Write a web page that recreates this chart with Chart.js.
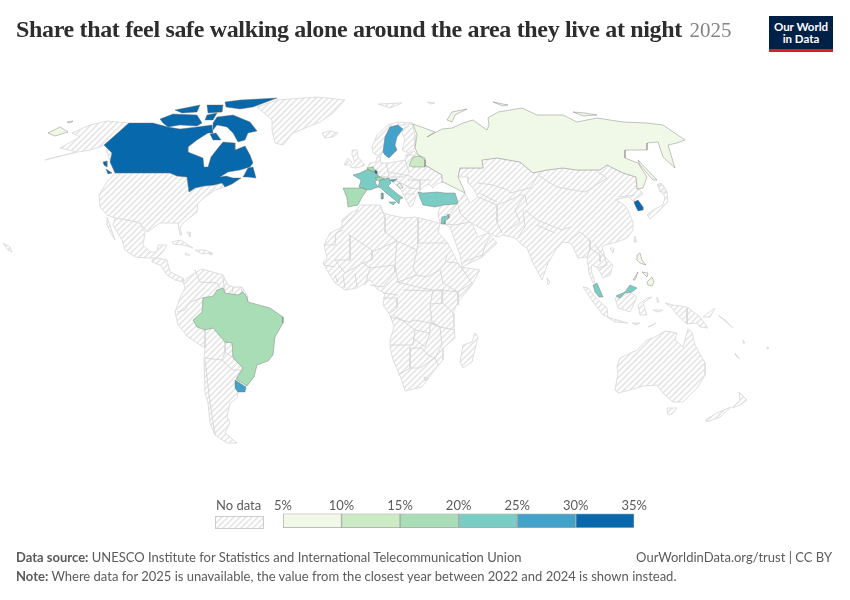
<!DOCTYPE html>
<html lang="en">
<head>
<meta charset="UTF-8" />
<title>Share that feel safe walking alone around the area they live at night</title>
<script src="https://cdn.jsdelivr.net/npm/chart.js@4"></script>
<style>
  html, body { margin: 0; background: #fff; }
  #page { position: relative; width: 850px; height: 600px; overflow: hidden; font-family: Lato, sans-serif; color: #5b5b5b; }
  #page > * { position: absolute; }
  #map { left: 0; top: 0; }
  #legend { left: 274px; top: 499px; }
  h1 { left: 16px; top: 16px; margin: 0; font: bold 24px "Liberation Serif", serif; letter-spacing: -0.34px; color: #2d2d2d; white-space: nowrap; }
  h1 span { font-weight: normal; color: #858585; font-size: 21px; letter-spacing: 0; margin-left: 2px; }
  #logo { left: 769px; top: 16px; width: 64px; height: 33px; padding-top: 0; background: #002147; border-bottom: 3px solid #ce261e; color: #fff; font: bold 11.5px/12px Lato, sans-serif; text-align: center; }
  #logo div { padding-top: 5px; }
  .small { font-size: 13px; white-space: nowrap; }
  #nodata { left: 216px; top: 497px; font-size: 13px; }
  #swatch { left: 215px; top: 516px; width: 47px; height: 11px; border: 1px solid #ccc; }
</style>
</head>
<body>
<div id="page">
  <canvas id="map" width="850" height="600"></canvas>
  <h1>Share that feel safe walking alone around the area they live at night <span>2025</span></h1>
  <div id="logo"><div>Our World<br>in Data</div></div>
  <div id="nodata">No data</div>
  <div id="swatch"></div>
  <canvas id="legend" width="373" height="30"></canvas>
  <div class="small" style="left:16px;top:549px"><b>Data source:</b> UNESCO Institute for Statistics and International Telecommunication Union</div>
  <div class="small" style="right:18px;top:549px">OurWorldinData.org/trust | CC BY</div>
  <div class="small" style="left:16px;top:568px"><b>Note:</b> Where data for 2025 is unavailable, the value from the closest year between 2022 and 2024 is shown instead.</div>
</div>

<script>
// colour bins of the legend
const binEdges = [5, 10, 15, 20, 25, 30, 35];
const binColors = ['#f0f9e8', '#ccebc5', '#a8ddb5', '#7bccc4', '#43a2ca', '#0868ac'];

// countries with data, values estimated from the bin colours
const countries = ['Canada', 'Sweden', 'Russia', 'Belarus', 'France', 'Spain', 'Belgium', 'Luxembourg', 'Switzerland', 'Italy', 'Slovenia', 'Montenegro', 'Turkey', 'Jordan', 'South Korea', 'Malaysia', 'Philippines', 'Brazil', 'Uruguay'];
const shareValues = [32, 28, 8, 13, 23, 18, 17, 31, 17, 23, 27, 8, 22, 23, 33, 22, 8, 17, 27];

// country shapes in map units (projected map, one ring per landmass)
const countryOutlines = [
  [ // Canada
    [[104,145],[129,123],[153,123],[168,127],[180,129],[197,127],[212,125],[213,133],[208,133],[197,140],[188,147],[188,152],[203,158],[204,167],[208,167],[211,157],[218,148],[223,142],[235,143],[235,150],[245,146],[250,155],[253,163],[250,167],[240,170],[228,172],[220,177],[226,176],[233,178],[241,178],[232,184],[225,187],[222,183],[214,185],[204,186],[195,188],[189,192],[187,177],[177,176],[170,173],[115,173],[110,162],[112,153]],
    [[160,119],[173,114],[197,115],[202,123],[197,126],[180,125],[168,127],[163,123]],
    [[213,123],[217,117],[233,115],[250,122],[257,131],[248,133],[245,140],[238,142],[233,133],[227,127],[217,125],[213,130]],
    [[225,102],[240,100],[277,98],[253,107],[240,109],[233,108],[226,107]],
    [[207,105],[223,105],[222,112],[208,113]],
    [[175,110],[190,107],[200,105],[197,112],[182,113]],
    [[207,115],[217,113],[213,120],[205,120]],
    [[210,134],[216,133],[221,140],[213,140]],
    [[243,177],[248,168],[253,167],[256,178],[248,177]],
    [[103,162],[107,161],[107,167],[104,165]],
    [[106,169],[112,173],[108,174]]
  ],
  [[[383,152],[385,137],[390,127],[398,125],[403,129],[397,137],[395,145],[397,150],[389,158],[385,155]]], // Sweden
  [ // Russia
    [[413,124],[427,129],[435,132],[427,137],[442,129],[452,128],[463,123],[473,120],[480,125],[487,130],[489,125],[488,118],[498,112],[522,108],[537,115],[563,115],[577,122],[597,118],[623,122],[647,123],[663,125],[685,140],[677,143],[668,145],[675,168],[663,157],[658,142],[647,143],[647,150],[625,150],[625,158],[638,163],[647,177],[643,188],[637,189],[636,177],[623,173],[607,165],[600,170],[577,170],[563,168],[547,170],[533,173],[520,162],[497,158],[482,160],[483,168],[460,168],[458,177],[463,188],[465,193],[455,188],[443,182],[442,175],[425,165],[425,158],[418,155],[415,148],[417,135]],
    [[48,133],[60,127],[68,132],[55,136]],
    [[67,122],[73,121],[70,123]],
    [[447,120],[452,112],[467,109],[455,115],[452,122]],
    [[493,102],[508,105],[503,106]],
    [[573,112],[585,113],[597,115],[583,116]],
    [[638,160],[657,180],[653,180],[640,165]]
  ],
  [[[409,165],[413,157],[420,156],[425,160],[425,167],[412,167]]], // Belarus
  [[[353,175],[360,173],[368,169],[375,173],[380,177],[375,182],[378,187],[370,190],[363,189],[359,187],[361,180]]], // France
  [[[343,188],[362,188],[367,190],[362,197],[358,205],[348,207],[347,198]]], // Spain
  [[[367,168],[373,167],[375,172],[369,170]]], // Belgium
  [[[375,170],[377,171],[377,174],[375,173]]], // Luxembourg
  [[[375,178],[380,177],[385,179],[380,182]]], // Switzerland
  [ // Italy
    [[378,187],[380,180],[389,178],[391,183],[388,186],[395,192],[403,198],[400,199],[399,204],[395,200],[386,193],[381,188]],
    [[389,202],[396,202],[393,205]],
    [[381,193],[383,193],[383,199],[381,199]]
  ],
  [[[390,180],[397,179],[393,182]]], // Slovenia
  [[[397,185],[400,183],[403,188],[400,188]]], // Montenegro
  [[[418,192],[423,193],[437,192],[445,193],[455,193],[458,202],[457,204],[443,205],[435,207],[423,205],[420,198]]], // Turkey
  [[[442,217],[447,216],[448,214],[449,218],[445,221],[445,224],[441,224]]], // Jordan
  [[[634,202],[638,200],[643,207],[643,210],[638,211],[635,205]]], // South Korea
  [ // Malaysia
    [[593,285],[597,283],[603,297],[599,297],[595,292]],
    [[616,296],[625,292],[630,285],[637,288],[632,292],[625,293],[620,298]]
  ],
  [ // Philippines
    [[637,255],[640,253],[642,260],[646,265],[640,263],[637,260]],
    [[647,282],[652,277],[654,282],[652,286],[648,285]],
    [[642,272],[648,273],[647,277]],
    [[633,280],[638,272],[635,280]]
  ],
  [[[193,320],[202,312],[203,298],[213,296],[217,290],[223,288],[225,293],[238,295],[243,292],[247,297],[248,302],[270,308],[283,317],[283,323],[275,337],[273,355],[268,361],[257,365],[254,377],[247,386],[236,379],[243,368],[233,358],[232,343],[225,342],[213,328],[205,330],[197,327]]], // Brazil
  [[[235,380],[246,387],[245,392],[238,392],[235,388]]] // Uruguay
];

// land with no data
const noDataLand = [
  [[115,173],[170,173],[177,176],[187,177],[189,192],[195,188],[204,186],[214,185],[222,183],[225,187],[215,190],[205,197],[198,203],[197,212],[183,223],[180,228],[182,235],[180,235],[178,223],[160,223],[147,232],[140,223],[128,220],[115,218],[107,215],[100,207],[99,195],[107,182]], // USA
  [[129,123],[107,121],[90,125],[72,133],[80,137],[60,148],[77,152],[45,160],[72,153],[90,150],[100,147],[104,145],[112,153],[110,160],[106,150]], // Alaska
  [[3,243],[10,247],[12,252],[8,250]],
  [[257,107],[277,100],[317,97],[345,100],[333,113],[320,122],[293,133],[283,145],[275,143],[272,130],[272,120]], // Greenland
  [[322,133],[330,131],[338,133],[333,137],[325,138]],
  [[378,104],[402,103],[390,108]],
  [[427,102],[435,103],[431,104]],
  [[115,218],[128,220],[140,223],[145,233],[143,245],[150,252],[157,252],[158,245],[167,245],[162,253],[157,258],[147,258],[135,257],[125,250],[122,240],[113,225]], // Mexico
  [[107,217],[115,240],[112,235],[107,225]],
  [[152,260],[157,258],[167,260],[170,272],[183,278],[183,282],[175,280],[167,275],[160,265],[152,262]],
  [[172,242],[180,240],[193,248],[183,245],[173,244]],
  [[195,250],[205,250],[212,253],[202,254]],
  [[185,253],[190,255],[186,255]],
  [[210,253],[213,254],[210,255]],
  [[187,232],[190,232],[190,237]],
  [[183,282],[187,278],[195,273],[202,269],[223,275],[228,285],[233,287],[242,287],[247,295],[250,320],[240,380],[236,390],[238,392],[237,398],[230,403],[227,417],[230,423],[225,433],[237,443],[227,443],[215,435],[210,423],[208,403],[205,393],[204,360],[205,348],[188,337],[178,325],[175,312],[180,298],[185,288]], // South America
  [[342,220],[350,213],[357,210],[360,205],[380,205],[383,213],[390,215],[405,218],[415,217],[435,222],[440,223],[438,232],[447,242],[453,253],[460,267],[480,270],[472,285],[458,302],[453,313],[454,327],[455,338],[443,348],[443,360],[433,372],[422,387],[405,391],[401,378],[393,360],[390,347],[390,340],[394,327],[390,315],[383,305],[385,293],[378,290],[370,280],[357,288],[345,290],[335,283],[328,272],[323,263],[327,258],[324,245],[330,233],[342,227]], // Africa
  [[475,333],[478,337],[472,362],[463,368],[460,362],[463,345],[472,342]],
  [[367,168],[370,163],[376,162],[377,157],[381,158],[380,163],[388,163],[400,161],[405,160],[407,155],[414,151],[418,155],[425,160],[425,165],[442,175],[443,182],[437,184],[433,188],[429,184],[423,187],[420,191],[417,194],[415,199],[413,205],[410,207],[405,198],[402,191],[397,186],[392,181],[388,180],[388,177],[380,177],[375,173]], // Europe
  [[404,128],[412,124],[415,135],[415,148],[408,153],[402,150],[405,140],[402,133]], // Finland
  [[372,147],[377,135],[388,125],[398,122],[413,123],[405,125],[398,125],[390,127],[385,137],[383,152],[380,157],[373,153]], // Norway
  [[352,150],[357,150],[358,157],[365,165],[360,167],[355,168],[350,167],[355,162],[352,155]],
  [[344,165],[348,158],[352,162],[350,165]],
  [[440,206],[438,215],[440,222],[450,227],[460,255],[462,267],[482,257],[497,243],[488,233],[478,237],[472,223],[468,221],[487,232],[497,237],[503,235],[515,238],[522,245],[527,248],[533,263],[542,280],[548,263],[557,248],[563,242],[570,243],[573,247],[578,258],[587,257],[589,273],[593,283],[595,282],[591,270],[592,265],[598,268],[603,278],[610,275],[613,265],[605,257],[602,247],[605,245],[617,242],[627,238],[633,230],[633,222],[627,208],[622,203],[615,200],[627,197],[630,198],[634,202],[635,199],[643,194],[640,190],[637,189],[636,177],[623,173],[607,165],[600,170],[577,170],[563,168],[547,170],[533,173],[520,162],[497,158],[482,160],[483,168],[460,168],[458,177],[468,177],[468,183],[473,188],[478,197],[470,203],[465,193],[458,202]], // Asia
  [[647,215],[653,210],[663,205],[665,197],[657,185],[661,183],[667,192],[668,202],[658,212],[650,219]],
  [[658,185],[663,185],[667,192],[660,192]],
  [[635,236],[637,242],[634,242]],
  [[610,248],[614,248],[613,253]],
  [[547,278],[550,282],[548,285]],
  [[583,287],[588,288],[598,300],[607,308],[608,317],[603,315],[593,302]],
  [[607,317],[628,323],[615,322]],
  [[615,298],[620,298],[630,292],[637,297],[630,312],[618,308]],
  [[638,305],[647,298],[652,297],[643,303],[647,315],[640,315]],
  [[648,327],[656,323],[653,325]],
  [[632,323],[640,323],[636,325]],
  [[665,303],[673,305],[687,307],[700,317],[708,328],[700,327],[697,323],[687,324],[677,315],[672,308]],
  [[657,297],[659,302],[657,302]],
  [[653,310],[663,310],[658,312]],
  [[718,315],[733,328],[725,320]],
  [[703,317],[715,308],[710,317]],
  [[743,340],[745,343],[743,343]],
  [[735,353],[740,359],[736,356]],
  [[767,347],[769,348],[767,349]],
  [[615,390],[618,373],[617,367],[620,358],[637,350],[647,340],[655,337],[665,331],[677,333],[675,340],[683,347],[688,329],[692,332],[695,345],[705,363],[705,375],[697,388],[683,402],[673,402],[663,393],[657,385],[643,386],[630,390],[618,393]], // Australia
  [[667,408],[677,408],[672,414],[668,415]],
  [[739,392],[747,400],[740,405],[732,408],[740,400]],
  [[731,407],[720,417],[707,422],[705,420],[717,413]]
];

// borders between countries with no data
const noDataBorders = [
  [[177,312],[185,310],[190,302]], [[195,270],[200,282],[217,283],[220,288]], [[190,302],[205,297]], [[205,330],[205,348]], [[205,360],[210,403],[215,435]], [[205,358],[222,360],[225,352],[232,357]], [[222,360],[233,370],[243,370]], [[225,342],[225,352]], [[223,277],[225,294]], [[233,287],[232,293]], [[242,288],[241,295]],
  [[342,228],[358,210]], [[324,245],[335,245],[336,233],[343,230]], [[348,234],[372,250],[372,260],[363,263]], [[350,235],[350,260],[335,260]], [[380,205],[385,217],[385,232],[397,241]], [[418,218],[418,243]], [[397,241],[417,250],[418,243]], [[418,243],[447,243]], [[372,252],[397,241]], [[397,241],[395,265]], [[417,250],[413,268],[417,275]], [[395,265],[398,282],[417,275]], [[417,275],[427,277],[440,270],[443,283]], [[447,262],[458,263],[472,283],[458,292],[443,283]], [[447,255],[445,263],[440,270]], [[397,282],[422,288],[433,290],[443,290]], [[370,268],[395,265],[395,272],[383,287],[370,285]], [[363,263],[370,268],[365,285]], [[335,260],[345,273],[363,263]], [[343,275],[345,288]], [[355,273],[357,287]], [[335,275],[338,283]], [[324,265],[335,267]], [[383,298],[397,298],[397,308],[390,313]], [[383,293],[398,295]], [[403,290],[433,291],[430,305],[432,322],[440,327],[430,323],[415,320],[410,322],[402,320],[393,315]], [[433,291],[443,290],[458,292],[458,305]], [[430,304],[443,303],[453,313]], [[443,290],[442,303]], [[430,322],[440,327],[455,330]], [[390,317],[402,320],[415,330],[413,345],[390,345]], [[415,330],[430,333],[430,323]], [[413,338],[425,347],[430,333]], [[410,348],[410,368],[398,375]], [[410,348],[422,348],[428,355],[435,358],[420,368],[410,368]], [[440,327],[442,345],[435,358],[438,365]], [[424,377],[428,378],[425,381],[424,377]],
  [[386,163],[389,176]], [[372,166],[376,172]], [[380,177],[392,177]], [[389,172],[410,176]], [[405,160],[409,172]], [[410,176],[415,180],[430,180]], [[408,180],[420,180],[420,190]], [[392,177],[405,177]], [[395,180],[405,185],[412,188]], [[408,188],[420,189]], [[405,194],[415,194]], [[405,155],[414,155]],
  [[458,204],[460,213],[468,221]], [[445,224],[455,225],[470,222]], [[457,204],[449,215]], [[463,262],[482,255]], [[482,257],[485,245],[490,238]], [[478,197],[497,205]], [[497,205],[497,222],[502,233]], [[478,183],[493,185],[508,190],[510,193],[530,188],[540,173]], [[479,193],[497,202]], [[497,205],[510,200],[520,195],[525,195],[515,210],[520,222],[505,232]], [[523,210],[525,227],[518,237]], [[525,195],[527,205]], [[525,210],[537,220],[562,230],[570,227]], [[537,225],[555,233]], [[570,240],[580,232],[590,240],[590,250],[587,257]], [[590,248],[600,255],[600,262]], [[595,245],[605,258],[607,265]], [[598,268],[607,265]], [[538,175],[550,183],[557,187],[585,192],[607,178],[598,172]], [[635,195],[620,197]],
  [[687,308],[687,324]]
];

// hatching used for land with no data
const tile = document.createElement('canvas');
tile.width = 6; tile.height = 6;
const t = tile.getContext('2d');
t.strokeStyle = '#e6e6e6';
t.lineWidth = 1.6;
t.beginPath();
t.moveTo(-1, 7); t.lineTo(7, -1);
t.moveTo(-4, 4); t.lineTo(4, -4);
t.moveTo(2, 10); t.lineTo(10, 2);
t.stroke();
const hatch = document.getElementById('map').getContext('2d').createPattern(tile, 'repeat');
document.getElementById('swatch').style.backgroundImage = `url(${tile.toDataURL()})`;

function colorFor(value) {
  let i = 0;
  while (i < binColors.length - 1 && value >= binEdges[i + 1]) i++;
  return binColors[i];
}

function ring(points, fillColor, lineColor, lineWidth) {
  const closed = fillColor ? points.concat([points[0]]) : points;
  return {
    data: closed.map(p => ({ x: p[0], y: p[1] })),
    showLine: true,
    fill: fillColor ? 'shape' : false,
    backgroundColor: fillColor || 'transparent',
    borderColor: lineColor,
    borderWidth: lineWidth,
    pointRadius: 0,
    tension: 0
  };
}

const datasets = [];
noDataLand.forEach(p => datasets.push(ring(p, hatch, '#dedede', 1)));
noDataBorders.forEach(p => datasets.push(ring(p, null, '#d8d8d8', 1)));
countryOutlines.forEach((rings, i) => {
  rings.forEach(p => datasets.push(ring(p, colorFor(shareValues[i]), 'rgba(110,110,110,0.5)', 0.8)));
});
// Chart.js paints the first dataset last, countries have to end up on top
datasets.reverse();

new Chart(document.getElementById('map'), {
  type: 'scatter',
  data: { datasets },
  options: {
    responsive: false,
    animation: false,
    events: [],
    layout: { padding: 0 },
    plugins: { legend: { display: false }, tooltip: { enabled: false } },
    scales: {
      x: { type: 'linear', min: 0, max: 850, display: false },
      y: { type: 'linear', min: 0, max: 600, reverse: true, display: false }
    }
  }
});

new Chart(document.getElementById('legend'), {
  type: 'bar',
  data: {
    labels: ['share'],
    datasets: binColors.map((c, i) => ({
      data: [[binEdges[i], binEdges[i + 1]]],
      backgroundColor: c,
      borderColor: '#a8a8a8',
      borderWidth: 1,
      borderSkipped: false,
      grouped: false,
      barPercentage: 1,
      categoryPercentage: 1
    }))
  },
  options: {
    responsive: false,
    animation: false,
    events: [],
    indexAxis: 'y',
    layout: { padding: { bottom: 1 } },
    plugins: { legend: { display: false }, tooltip: { enabled: false } },
    scales: {
      x: {
        position: 'top',
        min: 5,
        max: 35,
        afterBuildTicks: axis => { axis.ticks = binEdges.map(v => ({ value: v })); },
        grid: { display: false, drawTicks: false },
        border: { display: false },
        ticks: { callback: v => v + '%', maxRotation: 0, autoSkip: false, color: '#5b5b5b', padding: 0, font: { family: 'Lato', size: 13 } }
      },
      y: { display: false }
    }
  }
});
</script>
</body>
</html>
